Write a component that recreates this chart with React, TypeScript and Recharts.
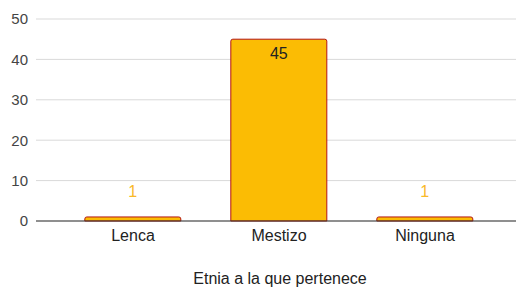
import React from 'react';
import { BarChart, Bar, XAxis, YAxis, CartesianGrid, LabelList } from 'recharts';

const categories = ['Lenca', 'Mestizo', 'Ninguna'];
const counts = [1, 45, 1];
const yTicks = [0, 10, 20, 30, 40, 50];
const xTitle = 'Etnia a la que pertenece';

const data = categories.map((name, i) => ({ name, value: counts[i] }));

const FONT = 'Arial, "Liberation Sans", sans-serif';

const BarValueLabel = (props: any) => {
  const { x, y, width, height, value } = props;
  const cx = Number(x) + Number(width) / 2;
  const inside = Number(height) > 30;
  const cy = inside ? Number(y) + 14 : Number(y) - 25;
  return (
    <text
      x={cx}
      y={cy}
      textAnchor="middle"
      dominantBaseline="central"
      fontSize={16}
      fontFamily={FONT}
      fill={inside ? '#222222' : '#f9b928'}
    >
      {value}
    </text>
  );
};

export default function App() {
  return (
    <div style={{ position: 'absolute', left: 0, top: 0, width: 516, height: 293, background: '#fff' }}>
      <BarChart
        width={516}
        height={293}
        data={data}
        margin={{ top: 19, right: 0, bottom: 0, left: 0 }}
        barCategoryGap="17%"
      >
        <CartesianGrid vertical={false} stroke="#d9d9d9" strokeWidth={1} />
        <XAxis
          dataKey="name"
          height={72}
          padding={{ left: 24, right: 18 }}
          tickLine={false}
          tickSize={0}
          tickMargin={9}
          axisLine={{ stroke: '#333333' }}
          tick={{ fill: '#222222', fontSize: 16, fontFamily: FONT }}
          label={{ value: xTitle, position: 'insideBottom', offset: 9, dx: 4, fill: '#222222', fontSize: 16, fontFamily: FONT }}
        />
        <YAxis
          width={36}
          domain={[0, 50]}
          ticks={yTicks}
          axisLine={false}
          tickLine={false}
          tickSize={0}
          tickMargin={8}
          tick={{ fill: '#444444', fontSize: 15, fontFamily: FONT }}
        />
        <Bar
          dataKey="value"
          fill="#fbbc04"
          stroke="#b31412"
          strokeWidth={1}
          radius={[2, 2, 0, 0]}
          isAnimationActive={false}
        >
          <LabelList dataKey="value" content={BarValueLabel} />
        </Bar>
      </BarChart>
    </div>
  );
}
